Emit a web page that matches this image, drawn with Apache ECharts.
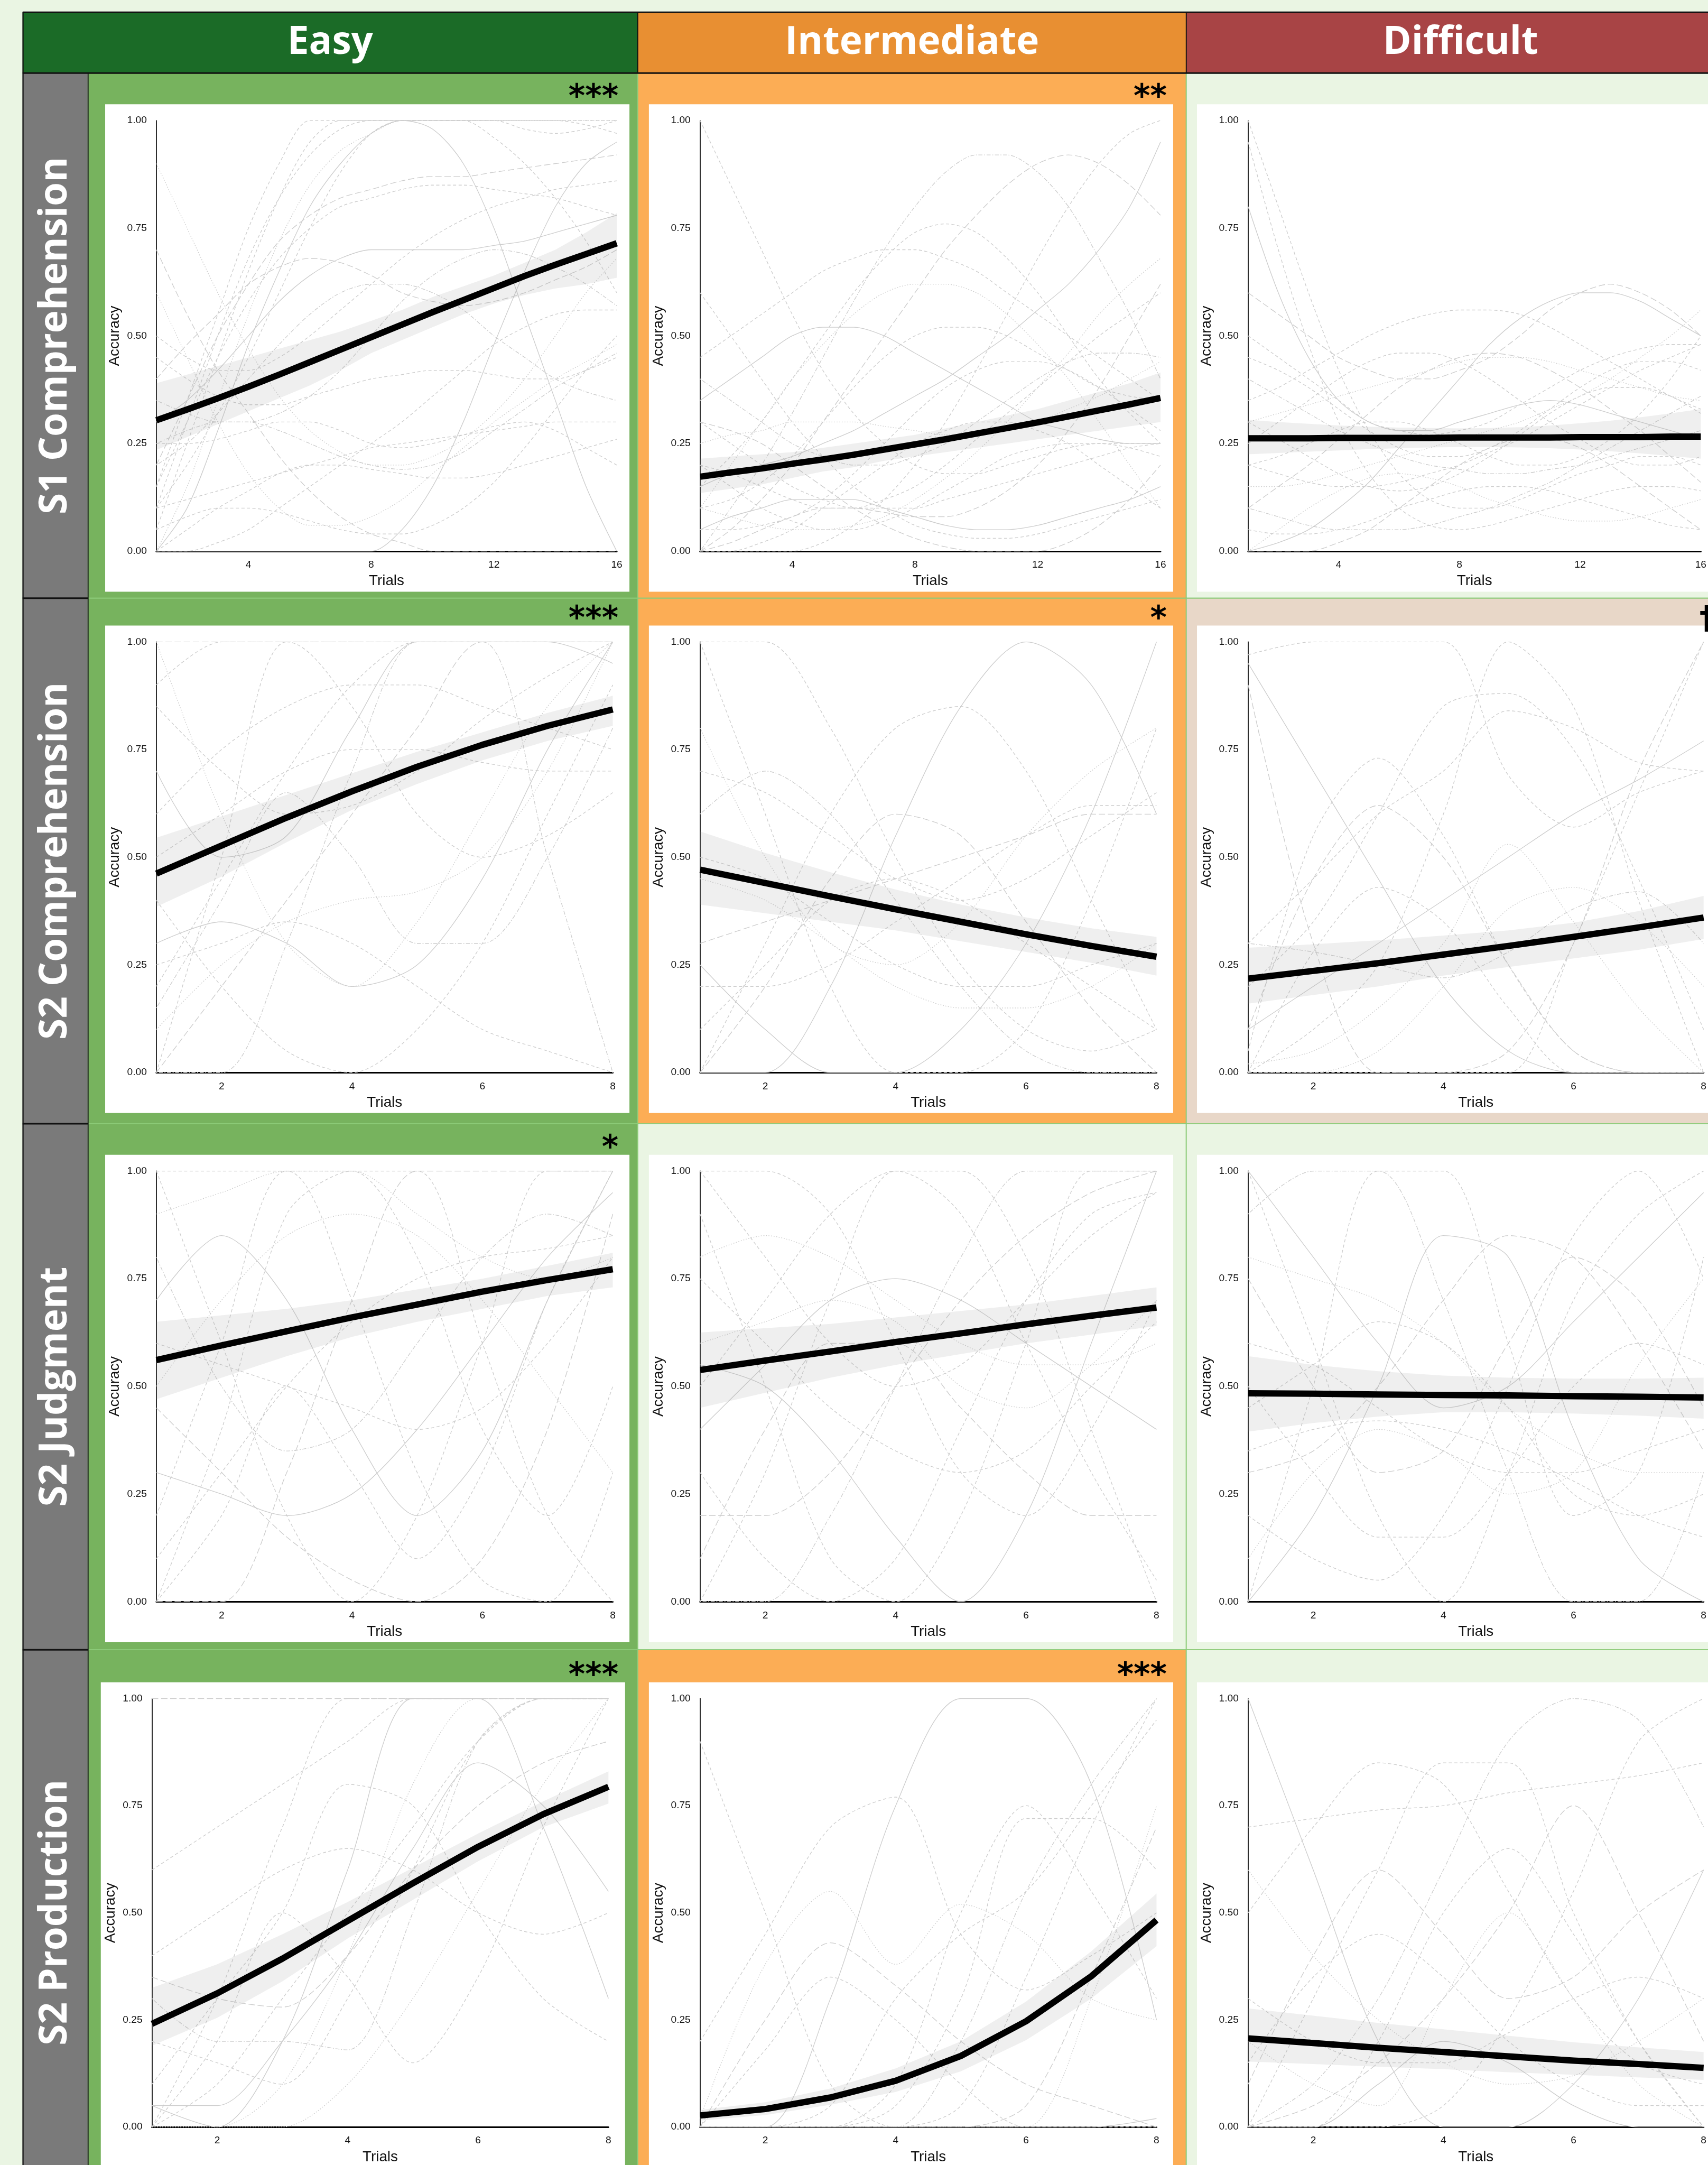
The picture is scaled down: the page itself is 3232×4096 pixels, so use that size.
<!DOCTYPE html>
<html>
<head>
<meta charset="utf-8">
<script src="https://cdn.jsdelivr.net/npm/echarts@6/dist/echarts.min.js"></script>
<style>
  html, body { margin: 0; padding: 0; background: #EAF5E3; }
  #chart { width: 3232px; height: 4096px; }
</style>
</head>
<body>
<div id="chart"></div>
<script>
// ---------- labels ----------
const columnNames = ['Easy', 'Intermediate', 'Difficult'];
const rowNames = ['S1 Comprehension', 'S2 Comprehension', 'S2 Judgment', 'S2 Production'];
const significance = [
  ['***', '**', ''],
  ['***', '*', '\u2020'],
  ['*', '', ''],
  ['***', '***', '']
];
const trials16 = [1, 2, 3, 4, 5, 6, 7, 8, 9, 10, 11, 12, 13, 14, 15, 16];
const trials8 = [1, 2, 3, 4, 5, 6, 7, 8];
const ticks16 = [4, 8, 12, 16];
const ticks8 = [2, 4, 6, 8];

// ---------- S1 Comprehension ----------
const s1EasyFit  = [0.304,0.329,0.355,0.382,0.410,0.439,0.468,0.497,0.526,0.555,0.583,0.611,0.639,0.665,0.690,0.715];
const s1EasyLow  = [0.235,0.265,0.295,0.325,0.355,0.385,0.420,0.460,0.490,0.520,0.550,0.575,0.595,0.610,0.620,0.635];
const s1EasyHigh = [0.390,0.410,0.430,0.450,0.470,0.490,0.510,0.535,0.560,0.590,0.615,0.640,0.670,0.700,0.740,0.785];
const s1EasySubjects = [
  [0.05,0.25,0.45,0.65,0.82,0.95,1,1,1,1,1,1,1,1,1,1],
  [0.1,0.3,0.5,0.68,0.82,0.92,0.98,1,1,1,1,1,0.98,0.97,0.98,1],
  [0,0.15,0.35,0.55,0.72,0.85,0.93,0.97,1,1,1,1,1,1,1,1],
  [0.2,0.35,0.5,0.62,0.72,0.78,0.82,0.84,0.86,0.87,0.87,0.88,0.89,0.9,0.91,0.92],
  [0.15,0.3,0.45,0.58,0.68,0.75,0.8,0.82,0.84,0.85,0.85,0.84,0.83,0.82,0.8,0.78],
  [0,0.1,0.28,0.48,0.65,0.8,0.9,0.97,1,0.98,0.9,0.75,0.55,0.35,0.15,0],
  [0.35,0.32,0.3,0.3,0.32,0.36,0.42,0.5,0.58,0.64,0.68,0.7,0.69,0.66,0.62,0.57],
  [0.45,0.4,0.36,0.34,0.34,0.36,0.38,0.4,0.41,0.42,0.42,0.41,0.4,0.4,0.42,0.45],
  [0.25,0.25,0.26,0.28,0.3,0.3,0.28,0.25,0.24,0.25,0.27,0.29,0.3,0.28,0.24,0.2],
  [0.1,0.12,0.14,0.16,0.18,0.2,0.22,0.24,0.25,0.26,0.27,0.28,0.29,0.3,0.3,0.3],
  [0.6,0.45,0.3,0.18,0.1,0.06,0.06,0.08,0.12,0.18,0.24,0.3,0.35,0.4,0.44,0.48],
  [0.7,0.55,0.42,0.32,0.22,0.14,0.08,0.04,0.02,0,0,0,0,0,0,0],
  [0,0,0.02,0.05,0.1,0.15,0.2,0.25,0.3,0.36,0.42,0.48,0.52,0.55,0.56,0.56],
  [0.3,0.35,0.42,0.5,0.58,0.64,0.68,0.7,0.7,0.7,0.7,0.71,0.72,0.74,0.76,0.78],
  [0.2,0.25,0.32,0.4,0.48,0.55,0.6,0.62,0.62,0.6,0.56,0.5,0.45,0.4,0.37,0.35],
  [0,0.05,0.1,0.14,0.18,0.2,0.2,0.19,0.18,0.17,0.17,0.18,0.2,0.22,0.24,0.26],
  [0.1,0.2,0.32,0.45,0.6,0.75,0.88,0.97,1,1,1,0.96,0.9,0.82,0.72,0.6],
  [0.05,0.08,0.1,0.1,0.09,0.07,0.05,0.04,0.04,0.06,0.1,0.16,0.24,0.33,0.42,0.5],
  [0.9,0.75,0.6,0.47,0.36,0.28,0.23,0.2,0.2,0.22,0.26,0.32,0.4,0.5,0.6,0.68],
  [0.4,0.48,0.55,0.62,0.66,0.68,0.67,0.64,0.6,0.58,0.57,0.58,0.6,0.63,0.66,0.7],
  [0.15,0.35,0.55,0.75,0.9,1,1,1,1,1,1,1,1,1,0.99,0.97],
  [0,0,0,0,0,0,0,0,0.05,0.15,0.3,0.48,0.65,0.8,0.9,0.95],
  [0.25,0.28,0.3,0.3,0.28,0.25,0.22,0.2,0.19,0.2,0.23,0.28,0.33,0.38,0.42,0.46],
  [0.5,0.45,0.42,0.42,0.45,0.5,0.56,0.62,0.68,0.73,0.77,0.8,0.82,0.84,0.85,0.86]
];

const s1InterFit  = [0.173,0.183,0.192,0.203,0.213,0.224,0.236,0.248,0.260,0.273,0.286,0.299,0.313,0.327,0.341,0.356];
const s1InterLow  = [0.135,0.145,0.155,0.170,0.185,0.195,0.210,0.220,0.230,0.240,0.250,0.260,0.270,0.280,0.290,0.300];
const s1InterHigh = [0.215,0.220,0.225,0.230,0.240,0.250,0.260,0.270,0.285,0.300,0.315,0.330,0.350,0.370,0.390,0.415];
const s1InterSubjects = [
  [0,0,0.02,0.05,0.1,0.15,0.2,0.25,0.28,0.3,0.3,0.28,0.25,0.2,0.15,0.1],
  [0.2,0.18,0.15,0.12,0.1,0.1,0.12,0.15,0.2,0.26,0.32,0.38,0.44,0.5,0.55,0.6],
  [0.1,0.2,0.3,0.4,0.48,0.55,0.6,0.62,0.62,0.6,0.55,0.48,0.4,0.3,0.2,0.1],
  [0,0.05,0.12,0.2,0.3,0.4,0.5,0.6,0.7,0.78,0.85,0.9,0.92,0.9,0.85,0.78],
  [0.3,0.25,0.2,0.15,0.12,0.1,0.1,0.1,0.12,0.14,0.16,0.18,0.2,0.22,0.24,0.25],
  [0.05,0.08,0.1,0.12,0.12,0.12,0.1,0.08,0.06,0.05,0.05,0.06,0.08,0.1,0.12,0.15],
  [0.4,0.35,0.3,0.25,0.22,0.2,0.2,0.22,0.25,0.3,0.35,0.4,0.44,0.46,0.46,0.45],
  [0,0,0,0,0.02,0.06,0.12,0.2,0.3,0.42,0.55,0.68,0.8,0.9,0.97,1],
  [0.15,0.22,0.3,0.4,0.5,0.6,0.68,0.74,0.76,0.74,0.68,0.6,0.5,0.4,0.32,0.25],
  [0.6,0.5,0.4,0.3,0.22,0.15,0.1,0.06,0.04,0.03,0.03,0.04,0.06,0.08,0.1,0.12],
  [0.25,0.27,0.28,0.3,0.3,0.3,0.29,0.28,0.27,0.27,0.28,0.3,0.33,0.36,0.4,0.44],
  [0,0.02,0.05,0.08,0.1,0.1,0.09,0.08,0.08,0.1,0.14,0.2,0.28,0.38,0.5,0.62],
  [0.1,0.12,0.16,0.22,0.3,0.38,0.45,0.5,0.52,0.52,0.5,0.46,0.42,0.38,0.36,0.35],
  [0.35,0.4,0.45,0.5,0.52,0.52,0.5,0.46,0.42,0.38,0.34,0.3,0.28,0.26,0.25,0.25],
  [0,0.1,0.2,0.32,0.45,0.58,0.7,0.8,0.88,0.92,0.92,0.88,0.8,0.68,0.55,0.4],
  [0.2,0.15,0.1,0.07,0.05,0.05,0.07,0.1,0.14,0.18,0.22,0.24,0.25,0.25,0.24,0.22],
  [0.05,0.05,0.06,0.08,0.12,0.18,0.25,0.32,0.38,0.42,0.44,0.44,0.42,0.38,0.33,0.28],
  [0.45,0.5,0.55,0.6,0.65,0.68,0.7,0.7,0.68,0.65,0.6,0.55,0.5,0.45,0.4,0.35],
  [0.1,0.08,0.06,0.05,0.05,0.06,0.08,0.12,0.17,0.23,0.3,0.38,0.46,0.55,0.62,0.68],
  [0.3,0.28,0.25,0.2,0.15,0.1,0.06,0.03,0.01,0,0,0,0.02,0.06,0.12,0.2],
  [1,0.85,0.7,0.55,0.42,0.32,0.25,0.2,0.18,0.18,0.2,0.22,0.24,0.25,0.25,0.25],
  [0.15,0.18,0.2,0.22,0.25,0.28,0.32,0.36,0.4,0.45,0.5,0.56,0.62,0.7,0.8,0.95]
];

const s1DiffFit  = [0.262,0.262,0.262,0.263,0.263,0.263,0.263,0.264,0.264,0.264,0.264,0.265,0.265,0.265,0.266,0.266];
const s1DiffLow  = [0.225,0.228,0.231,0.234,0.237,0.239,0.241,0.242,0.242,0.241,0.239,0.236,0.232,0.227,0.221,0.215];
const s1DiffHigh = [0.305,0.300,0.296,0.292,0.289,0.287,0.286,0.285,0.286,0.288,0.292,0.297,0.303,0.311,0.320,0.330];
const s1DiffSubjects = [
  [1,0.8,0.6,0.42,0.28,0.18,0.12,0.1,0.1,0.12,0.15,0.18,0.2,0.22,0.22,0.2],
  [0.95,0.7,0.48,0.3,0.18,0.1,0.06,0.05,0.06,0.08,0.1,0.12,0.14,0.15,0.15,0.14],
  [0.3,0.32,0.34,0.36,0.38,0.4,0.42,0.44,0.45,0.45,0.44,0.42,0.4,0.38,0.36,0.35],
  [0.1,0.15,0.2,0.26,0.32,0.38,0.42,0.45,0.46,0.45,0.42,0.38,0.33,0.28,0.22,0.16],
  [0.2,0.18,0.16,0.15,0.15,0.16,0.18,0.2,0.23,0.26,0.3,0.34,0.38,0.42,0.45,0.48],
  [0,0.02,0.05,0.1,0.16,0.24,0.32,0.4,0.48,0.54,0.58,0.6,0.6,0.58,0.54,0.5],
  [0.4,0.36,0.32,0.28,0.25,0.22,0.2,0.19,0.18,0.18,0.19,0.2,0.22,0.24,0.26,0.28],
  [0.05,0.04,0.04,0.05,0.07,0.1,0.12,0.14,0.15,0.15,0.14,0.12,0.1,0.08,0.06,0.05],
  [0.5,0.45,0.4,0.35,0.3,0.28,0.27,0.28,0.3,0.34,0.38,0.42,0.45,0.47,0.48,0.48],
  [0.25,0.3,0.35,0.4,0.44,0.46,0.46,0.44,0.4,0.35,0.3,0.26,0.22,0.2,0.2,0.22],
  [0.15,0.15,0.16,0.18,0.2,0.22,0.24,0.26,0.28,0.3,0.33,0.36,0.4,0.45,0.5,0.56],
  [0,0,0,0.02,0.05,0.1,0.15,0.2,0.24,0.26,0.26,0.24,0.2,0.15,0.1,0.05],
  [0.35,0.38,0.42,0.46,0.5,0.53,0.55,0.56,0.56,0.55,0.52,0.48,0.44,0.4,0.36,0.33],
  [0.8,0.6,0.45,0.35,0.3,0.28,0.28,0.3,0.32,0.34,0.35,0.34,0.32,0.3,0.28,0.26],
  [0.1,0.08,0.06,0.05,0.05,0.05,0.06,0.08,0.1,0.13,0.16,0.2,0.24,0.28,0.32,0.36],
  [0.3,0.26,0.22,0.18,0.15,0.14,0.15,0.18,0.22,0.27,0.32,0.36,0.38,0.38,0.36,0.32],
  [0.2,0.22,0.25,0.28,0.3,0.3,0.28,0.25,0.22,0.2,0.2,0.22,0.26,0.32,0.4,0.5],
  [0.45,0.42,0.38,0.33,0.28,0.24,0.22,0.22,0.24,0.28,0.33,0.38,0.42,0.44,0.44,0.42],
  [0,0.05,0.1,0.14,0.17,0.18,0.17,0.15,0.12,0.1,0.08,0.07,0.07,0.08,0.1,0.12],
  [0.6,0.55,0.5,0.45,0.42,0.4,0.4,0.42,0.45,0.5,0.56,0.6,0.62,0.6,0.56,0.5]
];

// ---------- S2 Comprehension ----------
const s2CompEasyFit  = [0.462,0.527,0.592,0.653,0.710,0.761,0.805,0.843];
const s2CompEasyLow  = [0.385,0.455,0.535,0.610,0.670,0.725,0.770,0.805];
const s2CompEasyHigh = [0.545,0.595,0.645,0.695,0.745,0.790,0.835,0.875];
const s2CompEasySubjects = [
  [0,0.5,1,1,1,1,1,1],
  [0.2,0.45,0.7,0.9,1,1,1,1],
  [1,0.6,0.3,0.2,0.35,0.6,0.85,1],
  [0,0.2,0.4,0.6,0.8,1,1,1],
  [0.5,0.6,0.7,0.75,0.75,0.72,0.7,0.7],
  [0.3,0.35,0.3,0.2,0.25,0.45,0.75,1],
  [0,0,0.3,0.7,1,1,0.5,0],
  [0.9,1,1,0.85,0.6,0.5,0.55,0.65],
  [0.4,0.2,0.05,0,0.1,0.3,0.6,0.9],
  [0.6,0.75,0.85,0.9,0.9,0.85,0.8,0.75],
  [0.1,0.25,0.35,0.4,0.42,0.5,0.7,1],
  [1,1,1,1,1,1,1,1],
  [0.25,0.3,0.35,0.3,0.2,0.1,0.05,0],
  [0.7,0.5,0.55,0.8,1,1,1,0.95],
  [0.15,0.4,0.65,0.5,0.3,0.3,0.5,0.8],
  [0.85,0.7,0.6,0.62,0.7,0.82,0.92,1]
];

const s2CompInterFit  = [0.471,0.440,0.409,0.379,0.350,0.321,0.294,0.269];
const s2CompInterLow  = [0.390,0.370,0.350,0.330,0.305,0.280,0.255,0.225];
const s2CompInterHigh = [0.560,0.510,0.465,0.425,0.390,0.360,0.335,0.315];
const s2CompInterSubjects = [
  [1,0.6,0.2,0,0,0.1,0.4,0.8],
  [0,0.3,0.6,0.8,0.85,0.7,0.4,0.1],
  [0.8,0.5,0.3,0.25,0.35,0.55,0.7,0.8],
  [0.3,0.35,0.4,0.45,0.5,0.55,0.6,0.6],
  [0.5,0.45,0.35,0.25,0.2,0.2,0.25,0.3],
  [0,0,0.2,0.55,0.85,1,0.9,0.6],
  [0.6,0.7,0.6,0.4,0.2,0.05,0,0],
  [1,1,0.8,0.5,0.25,0.1,0.05,0.1],
  [0.2,0.2,0.25,0.35,0.45,0.55,0.62,0.62],
  [0.1,0.25,0.4,0.45,0.4,0.3,0.2,0.1],
  [0.45,0.4,0.3,0.2,0.15,0.15,0.2,0.3],
  [0,0.2,0.45,0.6,0.55,0.35,0.15,0],
  [0.7,0.65,0.55,0.45,0.4,0.45,0.55,0.65],
  [0.25,0.1,0,0,0.1,0.3,0.6,1]
];

const s2CompDiffFit  = [0.218,0.236,0.254,0.274,0.294,0.315,0.337,0.360];
const s2CompDiffLow  = [0.160,0.180,0.200,0.225,0.245,0.265,0.285,0.310];
const s2CompDiffHigh = [0.290,0.298,0.307,0.318,0.330,0.348,0.375,0.410];
const s2CompDiffSubjects = [
  [0.97,1,1,1,0.69,0.57,0.65,0.7],
  [0,0.1,0.25,0.6,1,0.85,0.4,0],
  [0.02,0.05,0.15,0.3,0.53,0.35,0.15,0],
  [0.9,0.3,0,0,0.05,0.3,0.7,1],
  [0.05,0.55,0.73,0.55,0.25,0.05,0,0],
  [0.1,0.2,0.3,0.4,0.5,0.6,0.68,0.77],
  [0.3,0.28,0.25,0.22,0.28,0.38,0.42,0.3],
  [0.3,0.45,0.6,0.7,0.84,0.8,0.72,0.7],
  [0,0.28,0.43,0.35,0.15,0,0,0],
  [0,0,0,0,0,0.3,0.65,1],
  [0,0,0.05,0.2,0.38,0.43,0.35,0.2],
  [0.1,0.45,0.62,0.5,0.25,0.05,0,0],
  [0.2,0.35,0.6,0.85,0.88,0.75,0.45,0.1],
  [0.95,0.7,0.45,0.2,0.05,0,0,0]
];

// ---------- S2 Judgment ----------
const s2JudgEasyFit  = [0.561,0.595,0.628,0.660,0.690,0.720,0.747,0.772];
const s2JudgEasyLow  = [0.470,0.520,0.570,0.615,0.650,0.680,0.710,0.730];
const s2JudgEasyHigh = [0.650,0.665,0.680,0.700,0.725,0.750,0.780,0.810];
const s2JudgEasySubjects = [
  [0,0.4,0.9,1,0.8,0.4,0.2,0.5],
  [1,0.6,0.2,0,0.2,0.6,1,1],
  [0.5,0.7,0.85,0.9,0.85,0.7,0.5,0.3],
  [0,0,0.3,0.7,1,1,1,1],
  [1,1,1,0.7,0.3,0.05,0,0.3],
  [0.3,0.25,0.2,0.25,0.4,0.6,0.8,0.95],
  [0.8,0.5,0.35,0.4,0.6,0.8,0.9,0.85],
  [0.2,0.6,1,1,1,0.6,0.2,0],
  [0.6,0.55,0.5,0.45,0.4,0.45,0.6,0.8],
  [0,0.2,0.5,0.3,0.1,0.3,0.7,1],
  [0.9,0.95,1,1,0.9,0.8,0.75,0.8],
  [0.45,0.3,0.15,0.05,0,0.1,0.4,0.9],
  [0.1,0.3,0.5,0.65,0.75,0.8,0.82,0.85],
  [0.7,0.85,0.7,0.4,0.2,0.35,0.7,1]
];

const s2JudgInterFit  = [0.538,0.560,0.581,0.603,0.623,0.644,0.664,0.683];
const s2JudgInterLow  = [0.450,0.485,0.520,0.550,0.575,0.600,0.620,0.640];
const s2JudgInterHigh = [0.625,0.635,0.645,0.660,0.675,0.690,0.710,0.730];
const s2JudgInterSubjects = [
  [0.9,0.5,0.1,0,0.2,0.6,1,1],
  [0,0.3,0.7,1,1,0.8,0.4,0],
  [0.6,0.65,0.7,0.65,0.5,0.45,0.55,0.7],
  [0.2,0.2,0.3,0.5,0.7,0.85,0.95,1],
  [1,1,0.9,0.6,0.3,0.2,0.4,0.7],
  [0.4,0.55,0.7,0.75,0.7,0.6,0.5,0.4],
  [0,0,0.2,0.5,0.8,1,1,1],
  [0.75,0.6,0.45,0.35,0.3,0.35,0.5,0.65],
  [0.3,0.1,0,0.1,0.4,0.7,0.9,0.95],
  [0.5,0.7,0.9,1,0.9,0.6,0.3,0.05],
  [0.8,0.85,0.8,0.7,0.6,0.55,0.55,0.6],
  [0.1,0.4,0.6,0.6,0.45,0.3,0.2,0.2],
  [1,0.8,0.6,0.5,0.55,0.7,0.85,0.95],
  [0.55,0.5,0.35,0.15,0,0.2,0.6,1]
];

const s2JudgDiffFit  = [0.484,0.483,0.481,0.480,0.479,0.477,0.476,0.474];
const s2JudgDiffLow  = [0.395,0.415,0.430,0.440,0.440,0.437,0.432,0.425];
const s2JudgDiffHigh = [0.570,0.550,0.535,0.525,0.520,0.518,0.518,0.520];
const s2JudgDiffSubjects = [
  [0,0.5,1,1,0.6,0.2,0.3,0.8],
  [1,0.6,0.2,0,0.3,0.7,0.9,1],
  [0.8,0.75,0.7,0.6,0.45,0.35,0.3,0.3],
  [0.3,0.35,0.5,0.7,0.85,0.8,0.6,0.35],
  [0.5,0.3,0.15,0.15,0.3,0.5,0.6,0.55],
  [0,0.2,0.5,0.85,0.8,0.4,0.1,0],
  [0.9,1,1,0.7,0.3,0,0,0.3],
  [0.6,0.55,0.45,0.35,0.3,0.3,0.35,0.4],
  [0.2,0.1,0.05,0.2,0.5,0.85,1,0.75],
  [0.45,0.55,0.65,0.6,0.45,0.25,0.2,0.25],
  [0.1,0.3,0.4,0.35,0.25,0.3,0.55,0.75],
  [0.75,0.5,0.3,0.35,0.6,0.8,0.7,0.45],
  [0.35,0.4,0.42,0.4,0.35,0.28,0.2,0.15],
  [1,0.8,0.6,0.45,0.5,0.65,0.8,0.95]
];

// ---------- S2 Production ----------
const s2ProdEasyFit  = [0.241,0.312,0.393,0.481,0.569,0.654,0.730,0.794];
const s2ProdEasyLow  = [0.190,0.255,0.340,0.440,0.530,0.620,0.700,0.755];
const s2ProdEasyHigh = [0.325,0.380,0.450,0.525,0.605,0.685,0.760,0.830];
const s2ProdEasySubjects = [
  [0,0.3,0.7,1,1,1,1,1],
  [0.2,0.15,0.1,0.3,0.6,0.9,1,1],
  [0,0,0.1,0.4,0.8,1,1,1],
  [0.35,0.3,0.28,0.4,0.6,0.75,0.85,0.9],
  [0,0.2,0.5,0.35,0.15,0.35,0.7,1],
  [0.05,0,0.2,0.6,1,1,0.7,0.3],
  [0.3,0.2,0.2,0.18,0.5,0.9,1,1],
  [0,0.1,0.3,0.5,0.7,0.9,1,1],
  [0.6,0.7,0.8,0.9,1,1,1,1],
  [0.1,0.3,0.5,0.8,0.75,0.5,0.3,0.2],
  [0,0,0,0.1,0.3,0.55,0.8,1],
  [1,1,1,1,1,1,1,1],
  [0.4,0.5,0.6,0.65,0.6,0.5,0.45,0.5],
  [0.05,0.05,0.2,0.4,0.65,0.85,0.75,0.55]
];

const s2ProdInterFit  = [0.027,0.042,0.069,0.108,0.166,0.247,0.352,0.483];
const s2ProdInterLow  = [0.015,0.028,0.052,0.082,0.130,0.203,0.300,0.422];
const s2ProdInterHigh = [0.040,0.058,0.090,0.137,0.200,0.293,0.410,0.545];
const s2ProdInterSubjects = [
  [0.9,0.5,0.1,0,0,0,0,0],
  [0.2,0.45,0.7,0.77,0.45,0.32,0.4,0.5],
  [0.02,0.38,0.55,0.38,0.52,0.45,0.3,0.25],
  [0,0.25,0.43,0.33,0.2,0.1,0.05,0],
  [0,0.18,0.35,0.25,0.1,0,0,0],
  [0,0,0.3,0.75,1,1,0.8,0.25],
  [0,0,0,0,0.2,0.55,0.8,1],
  [0,0,0,0,0.05,0.35,0.7,1],
  [0,0,0,0.05,0.3,0.72,0.72,0.6],
  [0,0,0,0.1,0.5,0.75,0.55,0.3],
  [0,0,0,0,0,0,0.3,0.75],
  [0,0,0,0,0,0.05,0.35,0.7],
  [0,0,0.05,0.3,0.45,0.55,0.75,0.95],
  [0,0,0,0,0,0,0,0.02]
];

const s2ProdDiffFit  = [0.207,0.196,0.185,0.175,0.165,0.155,0.147,0.138];
const s2ProdDiffLow  = [0.153,0.147,0.141,0.135,0.128,0.122,0.116,0.110];
const s2ProdDiffHigh = [0.277,0.260,0.243,0.228,0.213,0.198,0.186,0.175];
const s2ProdDiffSubjects = [
  [0,0.3,0.6,0.85,0.85,0.5,0.2,0],
  [0.7,0.72,0.74,0.75,0.78,0.8,0.82,0.85],
  [0.2,0.1,0.05,0.3,0.5,0.3,0.1,0],
  [0.1,0.4,0.6,0.45,0.3,0.35,0.5,0.6],
  [0,0,0.2,0.5,0.65,0.45,0.2,0],
  [1,0.6,0.2,0,0,0.1,0.3,0.6],
  [0,0.1,0.3,0.6,0.9,1,0.95,0.7],
  [0.3,0.2,0.15,0.15,0.22,0.3,0.35,0.3],
  [0,0,0,0.05,0.25,0.55,0.9,1],
  [0.15,0.35,0.45,0.35,0.2,0.1,0.05,0.05],
  [0.6,0.4,0.25,0.15,0.1,0.12,0.2,0.3],
  [0,0.05,0.15,0.3,0.5,0.75,0.5,0.2],
  [0.5,0.7,0.85,0.8,0.55,0.3,0.15,0.1],
  [0,0,0.1,0.2,0.15,0.05,0,0]
];

// ---------- panel table (rows x columns) ----------
const panels = [
  [
    { trials: trials16, ticks: ticks16, fit: s1EasyFit, low: s1EasyLow, high: s1EasyHigh, subjects: s1EasySubjects },
    { trials: trials16, ticks: ticks16, fit: s1InterFit, low: s1InterLow, high: s1InterHigh, subjects: s1InterSubjects },
    { trials: trials16, ticks: ticks16, fit: s1DiffFit, low: s1DiffLow, high: s1DiffHigh, subjects: s1DiffSubjects }
  ],
  [
    { trials: trials8, ticks: ticks8, fit: s2CompEasyFit, low: s2CompEasyLow, high: s2CompEasyHigh, subjects: s2CompEasySubjects },
    { trials: trials8, ticks: ticks8, fit: s2CompInterFit, low: s2CompInterLow, high: s2CompInterHigh, subjects: s2CompInterSubjects },
    { trials: trials8, ticks: ticks8, fit: s2CompDiffFit, low: s2CompDiffLow, high: s2CompDiffHigh, subjects: s2CompDiffSubjects }
  ],
  [
    { trials: trials8, ticks: ticks8, fit: s2JudgEasyFit, low: s2JudgEasyLow, high: s2JudgEasyHigh, subjects: s2JudgEasySubjects },
    { trials: trials8, ticks: ticks8, fit: s2JudgInterFit, low: s2JudgInterLow, high: s2JudgInterHigh, subjects: s2JudgInterSubjects },
    { trials: trials8, ticks: ticks8, fit: s2JudgDiffFit, low: s2JudgDiffLow, high: s2JudgDiffHigh, subjects: s2JudgDiffSubjects }
  ],
  [
    { trials: trials8, ticks: ticks8, fit: s2ProdEasyFit, low: s2ProdEasyLow, high: s2ProdEasyHigh, subjects: s2ProdEasySubjects },
    { trials: trials8, ticks: ticks8, fit: s2ProdInterFit, low: s2ProdInterLow, high: s2ProdInterHigh, subjects: s2ProdInterSubjects },
    { trials: trials8, ticks: ticks8, fit: s2ProdDiffFit, low: s2ProdDiffLow, high: s2ProdDiffHigh, subjects: s2ProdDiffSubjects }
  ]
];

// ---------- layout (design units, scaled by S) ----------
const S = 0.751;
const p = v => v * S;

const PAGE_BG = '#EAF5E3';
const headerFill = ['#1B6B27', '#E88F32', '#A84445'];
const sigFill = ['#77B35E', '#FCAD55'];
const daggerFill = '#E8D7C8';
const cellStroke = '#8DCB7A';
const labelGrey = '#7A7A7A';

const colLeft = [222, 1607, 2989];
const colRight = [1607, 2989, 4371];
const rowTop = [184, 1507, 2831, 4156];
const rowBottom = [1507, 2831, 4156, 5480];
const axisTopY = [303.6, 1617, 2950, 4279];   // y of accuracy = 1.00
const boxLeft = [[265, 1635, 3016], [265, 1635, 3016], [265, 1635, 3016], [254, 1635, 3016]];
const BOX_W = 1321;
const PLOT_H = 1085;

const dashStyles = [
  [p(8), p(6)], [p(8), p(6)], [p(2.5), p(4)], [p(16), p(7)],
  [p(8), p(6)], null, [p(2.5), p(4), p(10), p(4)], [p(8), p(6)]
];

const graphics = [];
function rect(x, y, w, h, fill, extra) {
  graphics.push(Object.assign({
    type: 'rect', silent: true, z: 0,
    shape: { x: p(x), y: p(y), width: p(w), height: p(h) },
    style: { fill: fill }
  }, extra || {}));
}
function hline(x1, x2, y, w, color) {
  graphics.push({ type: 'line', silent: true, z: 1,
    shape: { x1: p(x1), y1: p(y), x2: p(x2), y2: p(y) },
    style: { stroke: color, lineWidth: p(w) } });
}
function vline(x, y1, y2, w, color) {
  graphics.push({ type: 'line', silent: true, z: 1,
    shape: { x1: p(x), y1: p(y1), x2: p(x), y2: p(y2) },
    style: { stroke: color, lineWidth: p(w) } });
}

// column headers
for (let c = 0; c < 3; c++) {
  const x0 = c === 0 ? 57 : colLeft[c];
  rect(x0, 31, colRight[c] - x0, 153, headerFill[c]);
  graphics.push({ type: 'text', silent: true, z: 2,
    x: p((x0 + colRight[c]) / 2), y: p(108),
    style: { text: columnNames[c], fill: '#FFFFFF', align: 'center', verticalAlign: 'middle',
      fontFamily: 'Open Sans', fontWeight: 'bold', fontSize: p(97) } });
}

// row label strip
rect(57, 184, 165, 5300, labelGrey);
for (let r = 0; r < 4; r++) {
  graphics.push({ type: 'text', silent: true, z: 2,
    x: p(140), y: p((rowTop[r] + rowBottom[r]) / 2), rotation: Math.PI / 2,
    style: { text: rowNames[r], fill: '#FFFFFF', align: 'center', verticalAlign: 'middle',
      fontFamily: 'Open Sans', fontWeight: 'bold', fontSize: p(97) } });
}

// facet cells, white plot boxes and significance marks
for (let r = 0; r < 4; r++) {
  for (let c = 0; c < 3; c++) {
    const sig = significance[r][c];
    let fill = PAGE_BG;
    if (sig === '\u2020') fill = daggerFill;
    else if (sig) fill = sigFill[c] || PAGE_BG;
    rect(colLeft[c], rowTop[r], colRight[c] - colLeft[c], rowBottom[r] - rowTop[r], fill,
      { style: { fill: fill, stroke: cellStroke, lineWidth: p(2.5) } });
    rect(boxLeft[r][c], axisTopY[r] - 41, BOX_W, PLOT_H + 143, '#FFFFFF', { z: 1 });
    if (sig) {
      graphics.push({ type: 'text', silent: true, z: 3,
        x: p(colRight[c] - 49), y: p(axisTopY[r] - 41 - 14),
        style: { text: sig, fill: '#000000', align: 'right', verticalAlign: 'middle',
          fontFamily: 'DejaVu Sans', fontWeight: 'bold', fontSize: p(80) } });
    }
  }
}

// black frame lines of the header and label strip
hline(57, 4400, 31, 4, '#111');
hline(57, 4400, 184, 4, '#111');
vline(colLeft[1], 31, 184, 2.5, '#111');
vline(colLeft[2], 31, 184, 2.5, '#111');
vline(58, 31, 5480, 3, '#111');
vline(222, 184, 5480, 2.5, '#111');
for (let r = 1; r < 4; r++) hline(57, 222, rowTop[r], 4, '#111');

// ---------- grids, axes and series ----------
const grids = [], xAxes = [], yAxes = [], series = [];
let k = 0;
for (let r = 0; r < 4; r++) {
  for (let c = 0; c < 3; c++) {
    const P = panels[r][c];
    const nT = P.trials.length;
    const axisLeft = boxLeft[r][c] + 129;
    const axisW = nT === 16 ? 1160 : 1150;
    grids.push({ left: p(axisLeft), top: p(axisTopY[r]), width: p(axisW), height: p(PLOT_H), containLabel: false });
    xAxes.push({
      gridIndex: k, type: 'value', min: P.trials[0], max: P.trials[nT - 1], z: 3,
      axisLine: { show: true, onZero: false, lineStyle: { color: '#000', width: p(4) } },
      axisTick: { show: false }, splitLine: { show: false },
      axisLabel: { customValues: P.ticks, color: '#111', fontFamily: 'Liberation Sans',
        fontSize: p(25.5), margin: p(22) },
      name: 'Trials', nameLocation: 'middle', nameGap: p(57),
      nameTextStyle: { color: '#111', fontFamily: 'Liberation Sans', fontSize: p(37) }
    });
    yAxes.push({
      gridIndex: k, type: 'value', min: 0, max: 1, interval: 0.25, z: 3,
      axisLine: { show: true, onZero: false, lineStyle: { color: '#000', width: p(2.2) } },
      axisTick: { show: false }, splitLine: { show: false },
      axisLabel: { color: '#111', fontFamily: 'Liberation Sans', fontSize: p(25.5), margin: p(24),
        formatter: v => v.toFixed(2) },
      name: 'Accuracy', nameLocation: 'middle', nameRotate: 90, nameGap: p(86),
      nameTextStyle: { color: '#111', fontFamily: 'Liberation Sans', fontSize: p(37) }
    });

    // one thin curve per participant
    P.subjects.forEach((vals, i) => {
      const dash = dashStyles[i % dashStyles.length];
      series.push({
        type: 'line', xAxisIndex: k, yAxisIndex: k, silent: true, animation: false, z: 4,
        symbol: 'none', smooth: 0.3, clip: true,
        data: vals.map((v, j) => [P.trials[j], v]),
        lineStyle: { color: '#CDCDCD', width: p(1.8), type: dash || 'solid' }
      });
    });

    // confidence ribbon around the fitted curve
    series.push({
      type: 'custom', xAxisIndex: k, yAxisIndex: k, silent: true, animation: false, z: 5,
      data: [[P.trials[0], P.fit[0]]],
      renderItem: (function (Pn) {
        return function (params, api) {
          const pts = [];
          for (let j = 0; j < Pn.trials.length; j++) pts.push(api.coord([Pn.trials[j], Pn.high[j]]));
          for (let j = Pn.trials.length - 1; j >= 0; j--) pts.push(api.coord([Pn.trials[j], Pn.low[j]]));
          return { type: 'polygon', shape: { points: pts }, style: { fill: 'rgba(140,140,140,0.14)' } };
        };
      })(P)
    });

    // fitted group curve
    series.push({
      type: 'line', xAxisIndex: k, yAxisIndex: k, silent: true, animation: false, z: 6,
      symbol: 'none', smooth: false,
      data: P.fit.map((v, j) => [P.trials[j], v]),
      lineStyle: { color: '#000000', width: p(16), cap: 'butt', join: 'round' }
    });
    k++;
  }
}

const chart = echarts.init(document.getElementById('chart'), null, { renderer: 'canvas', width: 3232, height: 4096 });
chart.setOption({
  backgroundColor: PAGE_BG,
  animation: false,
  grid: grids,
  xAxis: xAxes,
  yAxis: yAxes,
  series: series,
  graphic: { elements: graphics }
});
</script>
</body>
</html>
